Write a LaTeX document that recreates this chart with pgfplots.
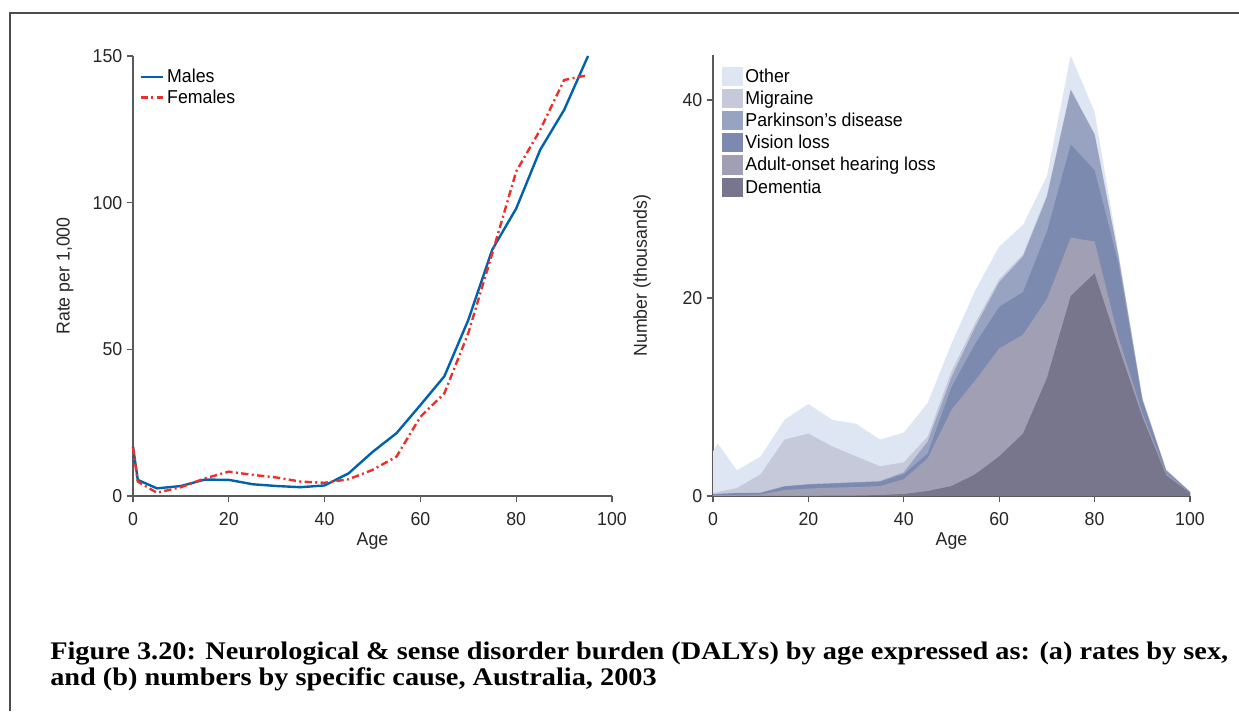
\documentclass[border=0pt]{standalone}
\usepackage{pgfplots}
\pgfplotsset{compat=1.18}
\usepackage{pgfplotstable}
\usepackage{fontspec}
\setmainfont{Liberation Sans}[FakeStretch=0.95]
\newfontfamily\capfont{Liberation Serif}
\definecolor{mblue}{HTML}{0062AA}
\definecolor{fred}{HTML}{E8312A}
\definecolor{cOther}{HTML}{DFE6F3}
\definecolor{cMig}{HTML}{C6C9D9}
\definecolor{cPark}{HTML}{98A3C2}
\definecolor{cVis}{HTML}{7D8AB0}
\definecolor{cHear}{HTML}{A19FB4}
\definecolor{cDem}{HTML}{78768C}
\definecolor{axgray}{HTML}{5A5A5A}
\newcommand\cf{\fontsize{14}{16.5}\selectfont}

\pgfplotstableread{
age male female
0 16.8 16.5
1 5.5 4.9
5 2.6 1.1
10 3.4 3.0
15 5.6 6.0
20 5.5 8.3
25 4.0 7.2
30 3.4 6.3
35 3.0 4.9
40 3.6 4.5
45 7.7 5.7
50 15.0 8.9
55 21.4 13.4
60 31.0 27.0
65 40.8 35.0
70 60.0 55.5
75 84.0 82.7
80 98.0 110.6
85 118.0 124.8
90 131.6 141.8
95 150.0 143.5
}\ratetable

% cumulative tops: D dementia, H hearing, V vision, P parkinson, M migraine, O other
\pgfplotstableread{
age D H V P M O
0 0 0.1 0.2 0.2 0.3 4.5
1 0 0.1 0.2 0.2 0.4 5.3
5 0 0.1 0.3 0.3 0.8 2.6
10 0 0.15 0.3 0.35 2.2 4.0
15 0 0.6 0.95 1.0 5.7 7.7
20 0 0.75 1.15 1.2 6.3 9.3
25 0.05 0.85 1.25 1.3 5.0 7.7
30 0.05 0.9 1.35 1.4 4.0 7.3
35 0.1 1.0 1.45 1.5 3.0 5.7
40 0.2 1.7 2.2 2.4 3.4 6.4
45 0.5 3.8 4.3 5.5 6.0 9.4
50 1.0 8.7 11.0 12.0 12.6 15.4
55 2.2 11.7 15.4 17.1 17.5 20.8
60 4.0 14.9 19.1 21.6 21.9 25.2
65 6.3 16.3 20.6 24.2 24.4 27.4
70 11.9 19.9 26.7 30.2 30.4 32.3
75 20.2 26.1 35.5 41.0 41.1 44.5
80 22.5 25.7 32.9 36.5 36.6 38.8
85 15.1 16.0 23.5 24.2 24.3 24.6
90 8.0 8.4 9.6 9.8 9.85 10.0
95 2.1 2.3 2.5 2.6 2.65 2.7
100 0.3 0.35 0.4 0.42 0.43 0.45
}\numtable

\pgfplotsset{
  common/.style={
    scale only axis,
    axis lines*=left,
    axis line style={axgray, line width=0.8pt},
    tick style={axgray, line width=0.8pt},
    tick align=outside,
    major tick length=4.5pt,
    xmin=0, xmax=100, ymin=0,
    xtick={0,20,40,60,80,100},
    ticklabel style={font=\cf, text=black!85},
    xticklabel style={yshift=-4pt},
    /pgf/number format/assume math mode=true,
    clip=false,
    every axis x label/.style={at={(axis description cs:0.5,-0.102)}, anchor=center, font=\cf, text=black!85},
  }
}

\begin{document}
\begin{tikzpicture}
\useasboundingbox (0,0) rectangle (929.25pt,533.25pt);
\draw[black!70, line width=0.8pt] (7.5pt,0) -- (7.5pt,523.5pt) -- (929.25pt,523.5pt);

\begin{axis}[common,
  at={(99.75pt,161.25pt)}, anchor=south west,
  width=359.25pt, height=330pt,
  ymax=150, ytick={0,50,100,150},
  xlabel={Age}, ylabel={Rate per 1,000},
  every axis y label/.style={at={(axis description cs:-0.142,0.5)}, rotate=90, anchor=center, font=\cf, text=black!85},
  legend style={at={(0.01,0.98)}, anchor=north west, draw=none, fill=none,
    font=\cf, row sep=0pt, inner sep=1pt},
  legend cell align=left,
]
\addplot[mblue, line width=1.8pt] table[x=age, y=male] {\ratetable};
\addlegendentry{Males}
\addplot[fred, line width=1.8pt, dash pattern=on 5.5pt off 2.5pt on 1.5pt off 2.5pt] table[x=age, y=female] {\ratetable};
\addlegendentry{Females}
\end{axis}

\begin{axis}[common,
  at={(534.75pt,161.25pt)}, anchor=south west,
  width=357.75pt, height=330.4pt,
  ymax=44.5, ytick={0,20,40},
  xlabel={Age}, ylabel={Number (thousands)},
  every axis y label/.style={at={(axis description cs:-0.149,0.5)}, rotate=90, anchor=center, font=\cf, text=black!85},
  legend style={at={(0.015,0.98)}, anchor=north west, draw=none, fill=none,
    font=\cf, row sep=1pt, inner sep=1pt},
  legend cell align=left,
  legend image code/.code={\fill[#1] (0pt,-7.2pt) rectangle (15.75pt,7.2pt);},
]
\addplot[fill=cOther, draw=none] table[x=age, y=O] {\numtable} \closedcycle;
\addlegendentry{Other}
\addplot[fill=cMig, draw=none] table[x=age, y=M] {\numtable} \closedcycle;
\addlegendentry{Migraine}
\addplot[fill=cPark, draw=none] table[x=age, y=P] {\numtable} \closedcycle;
\addlegendentry{Parkinson's disease}
\addplot[fill=cVis, draw=none] table[x=age, y=V] {\numtable} \closedcycle;
\addlegendentry{Vision loss}
\addplot[fill=cHear, draw=none] table[x=age, y=H] {\numtable} \closedcycle;
\addlegendentry{Adult-onset hearing loss}
\addplot[fill=cDem, draw=none] table[x=age, y=D] {\numtable} \closedcycle;
\addlegendentry{Dementia}
\end{axis}

\node[anchor=base west, inner sep=0pt] at (37.5pt,39pt) {\resizebox{883.5pt}{\height}{\capfont\bfseries\fontsize{19}{19.5}\selectfont\begin{tabular}[t]{@{}l@{}}Figure 3.20: Neurological \& sense disorder burden (DALYs) by age expressed as: (a) rates by sex,\\ and (b) numbers by specific cause, Australia, 2003\end{tabular}}};
\end{tikzpicture}
\end{document}
